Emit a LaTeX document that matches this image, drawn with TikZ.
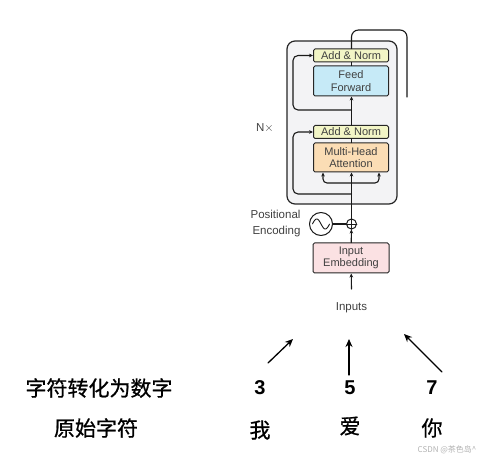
\documentclass[tikz,border=0pt]{standalone}
\usepackage{fontspec}
\setmainfont{Liberation Sans}
\newfontfamily\cjk{Noto Sans CJK SC}
\newfontfamily\cjkheavy{Noto Sans CJK SC}[FakeBold=0.8]
\usetikzlibrary{arrows.meta}

\definecolor{normfill}{HTML}{F2F5C6}
\definecolor{fffill}{HTML}{C6EAF7}
\definecolor{mhafill}{HTML}{FBDDB5}
\definecolor{embfill}{HTML}{FBE1E3}
\definecolor{stackfill}{HTML}{F3F3F5}

\tikzset{
  layer/.style={draw=black!85,line width=1pt,rounded corners=1.5pt,inner sep=0pt,
    minimum width=75,align=center,text=black!75,font=\fontsize{11}{12.5}\selectfont},
  wire/.style={line width=1.1pt,draw=black!90},
  arr/.style={wire,-{Stealth[length=4pt,width=3.6pt]}},
  bigarr/.style={line width=1.3pt,-{Stealth[length=8pt,width=7pt]}},
  plain/.style={text=black!75,font=\fontsize{11.5}{16}\selectfont},
  cjklabel/.style={font=\cjkheavy\fontsize{21}{23}\selectfont},
  digit/.style={font=\bfseries\fontsize{20}{22}\selectfont}
}

\begin{document}
\begin{tikzpicture}[x=1pt,y=-1pt,line cap=round,line join=round]
  \useasboundingbox (0,0) rectangle (487,462);
  % encoder stack
  \node[draw=black!85,line width=1.2pt,fill=stackfill,rounded corners=8pt,
    minimum width=110,minimum height=163,inner sep=0pt] (stack) at (342,122.5) {};
  \node[plain] (nx) at (265,128) {N$\times$};

  \node[layer,fill=normfill,minimum height=13] (norm2) at (351,55.5) {Add \& Norm};
  \node[layer,fill=fffill,minimum height=30] (ff) at (351,81) {Feed\\Forward};
  \node[layer,fill=normfill,minimum height=13] (norm1) at (351,132) {Add \& Norm};
  \node[layer,fill=mhafill,minimum height=29] (mha) at (351,157.5) {Multi-Head\\Attention};

  % input side
  \node[layer,fill=embfill,minimum width=76,minimum height=30] (emb) at (351,258) {Input\\Embedding};
  \node[draw=black!90,line width=1pt,circle,inner sep=0pt,minimum size=10] (add) at (351.5,224) {};
  \draw[wire,line width=0.9pt] (add.north) -- (add.south) (add.west) -- (add.east);
  \node[draw=black!90,line width=1pt,circle,inner sep=0pt,minimum size=23] (pe) at (321,224) {};
  \draw[wire,line width=0.9pt,domain=-8.5:8.5,samples=30,smooth] plot ({321+\x},{224+5*sin(21*\x)});
  \node[plain,align=right,anchor=east] (pelabel) at (304,224) {Positional\\Encoding};
  \node[plain] (inputs) at (351.5,308) {Inputs};

  \coordinate (intail) at (351.5,289);
  \coordinate (split) at (351.5,183);
  \coordinate (res1) at (351.5,194);
  \coordinate (res2) at (351.5,110);
  \coordinate (outtop) at (407,30);
  \coordinate (outend) at (407,97);

  \draw[arr] (intail) -- (emb);
  \draw[arr] (emb) -- (add);
  \draw[wire] (pe) -- (add);
  \draw[arr] (add) -- (mha.south -| add);
  \draw[arr,rounded corners=4pt] (split) -| ([xshift=-28pt]mha.south);
  \draw[arr,rounded corners=4pt] (split) -| ([xshift=28pt]mha.south);
  \draw[arr,rounded corners=5pt] (res1) -| ([xshift=-20pt]norm1.west) -- (norm1.west);
  \draw[wire] (mha.north -| add) -- (norm1.south -| add);
  \draw[arr] (norm1.north -| add) -- (ff.south -| add);
  \draw[arr,rounded corners=5pt] (res2) -| ([xshift=-20pt]norm2.west) -- (norm2.west);
  \draw[wire] (ff.north -| add) -- (norm2.south -| add);
  \draw[wire,rounded corners=7pt] (norm2.north -| add) -- (add |- outtop) -- (outtop) -- (outend);

  % tokens
  \node[cjklabel] (rowdigit) at (99,388) {字符转化为数字};
  \node[cjklabel] (rowchar) at (96,428) {原始字符};
  \node[digit] (d3) at (260,388) {3};
  \node[digit] (d5) at (350,388) {5};
  \node[digit] (d7) at (432,388) {7};
  \node[cjklabel] (wo) at (260,430) {我};
  \node[cjklabel] (ai) at (350,426) {爱};
  \node[cjklabel] (ni) at (432,428) {你};

  \coordinate (a3s) at (268,363);
  \coordinate (a3e) at (293,339);
  \coordinate (a5s) at (349,375);
  \coordinate (a5e) at (349,339);
  \coordinate (a7s) at (442,372);
  \coordinate (a7e) at (404,334);
  \draw[bigarr] (a3s) -- (a3e);
  \draw[bigarr] (a5s) -- (a5e);
  \draw[bigarr] (a7s) -- (a7e);

  \node[font=\cjk\fontsize{8}{9}\selectfont,text=black!30] (mark) at (447,450) {CSDN @茶色岛\textasciicircum};
\end{tikzpicture}
\end{document}
